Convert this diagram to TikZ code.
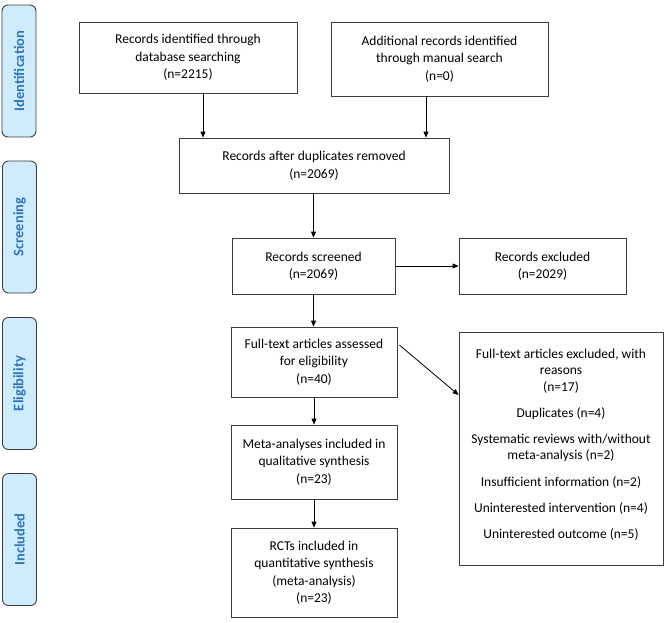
\documentclass[tikz,border=0pt]{standalone}
\usepackage{fontspec}
\setmainfont{Carlito}
\usetikzlibrary{arrows.meta}
\definecolor{phasefill}{RGB}{207,236,253}
\definecolor{phasetext}{RGB}{46,117,190}
\definecolor{boxline}{RGB}{60,60,60}
\begin{document}
\begin{tikzpicture}[x=1pt,y=-1pt,
  box/.style={draw=boxline, line width=0.8pt, align=center, inner sep=2pt,
    font=\fontsize{13.5}{17.5}\selectfont},
  phasebox/.style={draw=boxline, fill=phasefill, rounded corners=6pt, line width=0.9pt,
    rotate=90, minimum width=132pt, minimum height=34pt, inner sep=0pt,
    text=phasetext, font=\fontsize{14.5}{16}\selectfont\bfseries},
  arr/.style={-{Triangle[length=6pt,width=5pt]}, line width=0.8pt}]
\useasboundingbox (0,0) rectangle (669,622);

% phase labels
\node[phasebox] (pid) at (19,71) {Identification};
\node[phasebox] (psc) at (19.5,227) {Screening};
\node[phasebox] (pel) at (19.5,383.5) {Eligibility};
\node[phasebox] (pin) at (19.5,539.5) {Included};

% boxes
\node[box, minimum width=218pt, minimum height=71pt] (b1) at (188,57.5)
  {Records identified through\\database searching\\(n=2215)};
\node[box, minimum width=217pt, minimum height=74pt] (b2) at (439.5,59)
  {Additional records identified\\through manual search\\(n=0)};
\node[box, minimum width=270pt, minimum height=55pt] (b3) at (314,165.5)
  {Records after duplicates removed\\(n=2069)};
\node[box, minimum width=163pt, minimum height=56pt] (b4) at (313.5,266)
  {Records screened\\(n=2069)};
\node[box, minimum width=167pt, minimum height=56pt] (b5) at (542.5,266)
  {Records excluded\\(n=2029)};
\node[box, minimum width=166pt, minimum height=70pt] (b6) at (314,362)
  {Full-text articles assessed\\for eligibility\\(n=40)};
\node[box, minimum width=166pt, minimum height=74pt] (b7) at (314,462)
  {Meta-analyses included in\\qualitative synthesis\\(n=23)};
\node[box, minimum width=166pt, minimum height=89pt] (b8) at (314,572.5)
  {RCTs included in\\quantitative synthesis\\(meta-analysis)\\(n=23)};
\node[box, inner sep=2pt] (b9) at (561,448.5)
  {\parbox[c][229pt][t]{200pt}{\centering\fontsize{13.5}{16.5}\selectfont
   \rule{0pt}{24pt}Full-text articles excluded, with\\reasons\\(n=17)\par
   \vspace{9.7pt}Duplicates (n=4)\par
   \vspace{9.7pt}Systematic reviews with/without\\meta-analysis (n=2)\par
   \vspace{9.7pt}Insufficient information (n=2)\par
   \vspace{9.7pt}Uninterested intervention (n=4)\par
   \vspace{9.7pt}Uninterested outcome (n=5)}};

% connectors
\coordinate (c1) at (203,0);
\coordinate (c2) at (426,0);
\draw[arr] (b1.south -| c1) -- (b3.north -| c1);
\draw[arr] (b2.south -| c2) -- (b3.north -| c2);
\draw[arr] (b3.south -| b4.north) -- (b4.north);
\draw[arr] (b4.east) -- (b5.west);
\draw[arr] (b4.south) -- (b4.south |- b6.north);
\draw[arr] (b6.south) -- (b7.north);
\draw[arr] (b7.south) -- (b8.north);
\draw[arr] ([xshift=2pt,yshift=17pt]b6.east) -- ([yshift=53.5pt]b9.west);
\end{tikzpicture}
\end{document}
